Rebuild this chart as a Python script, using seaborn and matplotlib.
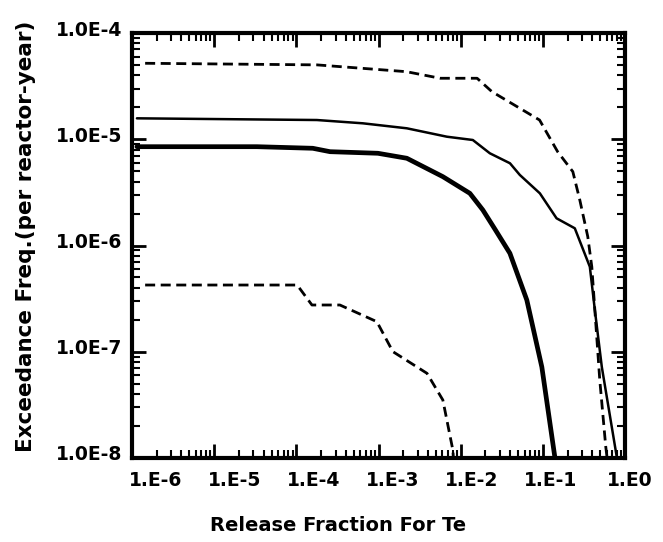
import numpy as np
import pandas as pd
import matplotlib
matplotlib.use("Agg")
import matplotlib.pyplot as plt
import matplotlib.transforms as mtransforms
import seaborn as sns

# ---- data (log10 values) ----
upper_logx = [-5.84, -3.75, -2.66, -2.25, -1.80, -1.62, -1.04, -0.82, -0.635, -0.55, -0.453, -0.404, -0.307, -0.234, -0.17]
upper_logy = [-4.285, -4.30, -4.364, -4.426, -4.426, -4.552, -4.819, -5.117, -5.305, -5.572, -5.917, -6.20, -7.266, -7.896, -8.3]

mean_logx = [-5.94, -3.75, -3.19, -2.655, -2.168, -1.852, -1.645, -1.40, -1.28, -1.036, -0.833, -0.611, -0.428, -0.367, -0.282, -0.10]
mean_logy = [-4.803, -4.819, -4.850, -4.897, -4.976, -5.007, -5.132, -5.226, -5.336, -5.509, -5.744, -5.838, -6.200, -6.607, -7.144, -7.991]

median_logx = [-5.94, -4.48, -3.80, -3.59, -3.007, -2.655, -2.217, -1.888, -1.73, -1.58, -1.401, -1.195, -1.012, -0.854, -0.83]
median_logy = [-5.070, -5.070, -5.085, -5.117, -5.132, -5.179, -5.352, -5.509, -5.666, -5.85, -6.073, -6.513, -7.144, -7.991, -8.2]

lower_logx = [-5.84, -3.99, -3.81, -3.47, -3.02, -2.825, -2.41, -2.217, -2.095, -2.08]
lower_logy = [-6.372, -6.372, -6.56, -6.56, -6.717, -6.999, -7.203, -7.454, -7.925, -8.1]

xtick_labels = ["1.E-6", "1.E-5", "1.E-4", "1.E-3", "1.E-2", "1.E-1", "1.E0"]
ytick_labels = ["1.0E-8", "1.0E-7", "1.0E-6", "1.0E-5", "1.0E-4"]

frames = []
for name, lx, ly in [("upper", upper_logx, upper_logy), ("mean", mean_logx, mean_logy),
                     ("median", median_logx, median_logy), ("lower", lower_logx, lower_logy)]:
    frames.append(pd.DataFrame({"x": 10.0 ** np.array(lx), "y": 10.0 ** np.array(ly), "curve": name}))
df = pd.concat(frames, ignore_index=True)

sns.set_style("ticks")
plt.rcParams["font.family"] = ["DejaVu Sans"]
plt.rcParams["font.weight"] = "bold"
plt.rcParams["text.color"] = "black"
plt.rcParams["axes.labelcolor"] = "black"
plt.rcParams["xtick.color"] = "black"
plt.rcParams["ytick.color"] = "black"

fig = plt.figure(figsize=(6.63, 5.42), dpi=100)
ax = fig.add_axes([132 / 663, 1 - 458 / 542, 493 / 663, 425 / 542])

styles = {
    "upper": dict(lw=2.0, ls=(0, (3.6, 2.0))),
    "mean": dict(lw=1.8, ls="-"),
    "median": dict(lw=3.4, ls="-"),
    "lower": dict(lw=2.0, ls=(0, (3.6, 2.0))),
}
for name, st in styles.items():
    sub = df[df["curve"] == name]
    sns.lineplot(data=sub, x="x", y="y", ax=ax, color="black", sort=False,
                 estimator=None, legend=False, linewidth=st["lw"], linestyle=st["ls"])

ax.set_xscale("log")
ax.set_yscale("log")
ax.set_xlim(1e-6, 1e0)
ax.set_ylim(1e-8, 1e-4)

ax.set_xticks([10.0 ** k for k in range(-6, 1)])
ax.set_xticklabels(xtick_labels)
ax.set_yticks([10.0 ** k for k in range(-8, -3)])
ax.set_yticklabels(ytick_labels)

ax.tick_params(which="both", direction="in", top=True, right=True, color="black",
               labelcolor="black")
ax.tick_params(which="major", length=10, width=2.0, labelsize=13.5, pad=7)
ax.tick_params(which="minor", length=6, width=1.5)
ax.tick_params(axis="x", which="major", pad=9)
for sp in ax.spines.values():
    sp.set_linewidth(3.0)
    sp.set_color("black")

for i, lab in enumerate(ax.get_xticklabels()):
    dx = (24 - 3.2 * i) / 100.0
    lab.set_transform(lab.get_transform() + mtransforms.ScaledTranslation(dx, 0, fig.dpi_scale_trans))
    lab.set_fontweight("bold")
for lab in ax.get_yticklabels():
    lab.set_transform(lab.get_transform() + mtransforms.ScaledTranslation(0, 0.05, fig.dpi_scale_trans))
    lab.set_fontweight("bold")

ax.set_xlabel("Release Fraction For Te", fontsize=14, fontweight="bold")
ax.set_ylabel("Exceedance Freq.(per reactor-year)", fontsize=15.5, fontweight="bold")
ax.xaxis.set_label_coords((338 - 132) / 493, -(516 - 458) / 425)
ax.yaxis.set_label_coords(-(132 - 36) / 493, (458 - 236) / 425)

fig.savefig("out.png", dpi=100, facecolor="white")
